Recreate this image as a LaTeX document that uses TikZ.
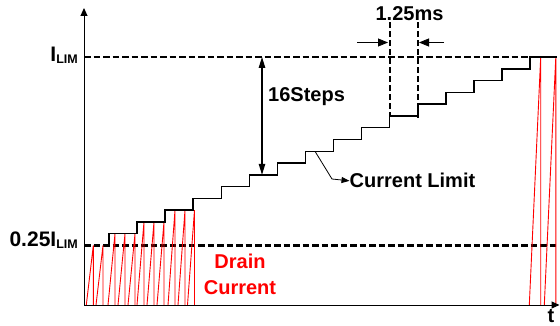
\documentclass[tikz,border=0pt]{standalone}
\usepackage{fontspec}
\setmainfont{Liberation Sans}
\usetikzlibrary{arrows.meta}
\newcommand\ILIMlbl{I\raisebox{-2pt}{\fontsize{12.5}{12.5}\selectfont LIM}}
\begin{document}
\begin{tikzpicture}[x=1pt,y=-1pt,
  lbl/.style={font=\fontsize{20}{22}\selectfont\bfseries, inner sep=0pt},
  axisline/.style={line width=1pt, -{Triangle[length=8pt,width=7pt]}},
  limdash/.style={line width=2.3pt, dash pattern=on 6.5pt off 3pt},
  tdash/.style={line width=1.8pt, dash pattern=on 6pt off 3pt},
  stair/.style={line width=1.5pt},
  drain/.style={red, line width=0.9pt},
  dimarrow/.style={line width=1.2pt, {Triangle[length=11pt,width=6.5pt]}-{Triangle[length=11pt,width=6.5pt]}},
  msarrow/.style={line width=0.8pt, -{Triangle[length=10pt,width=8pt]}},
  smallarrow/.style={line width=0.8pt, -{Triangle[length=8pt,width=6pt]}},
]
\useasboundingbox (0,0) rectangle (560,326);
% axes
\coordinate (O) at (84,305);
\coordinate (ytop) at (84,8);
\coordinate (xend) at (559.5,305);
% dashed levels
\coordinate (limL) at (84,57);
\coordinate (limR) at (557,57);
\coordinate (qL) at (84,245.5);
\coordinate (qR) at (556,245.5);
\draw[limdash] (limL) -- (limR);
\draw[limdash] (qL) -- (qR);
% drain current pulses (left)
\foreach \xt/\lv in {93.3/245.5,103/245.5,115/233.72,125/233.72,135/233.72,144/221.94,154/221.94,164/221.94,175/210.16,185/210.16,194.5/210.16}{
  \draw[drain] (\xt-7,305) -- (\xt,\lv) -- (\xt,305);
}
% drain current pulses (right)
\draw[drain] (529.3,305) -- (540.7,57) -- (540.7,305);
\draw[drain] (544.3,305) -- (555.8,57) -- (555.8,305);
% staircase
\draw[stair] (109,245.5)
  \foreach \k [evaluate=\k as \xa using {109+28.07*\k},
               evaluate=\k as \ya using {245.5-11.78*(\k+1)},
               evaluate=\k as \xb using {min(109+28.07*(\k+1),557)}] in {0,...,15}
  { -- (\xa,\ya) -- (\xb,\ya) };
% axes on top
\draw[axisline] (O) -- (ytop);
\draw[axisline] (O) -- (xend);
% 1.25 ms markers
\coordinate (d1t) at (389.7,22.5);
\coordinate (d1b) at (389.7,115.9);
\coordinate (d2t) at (417.8,22.5);
\coordinate (d2b) at (417.8,120);
\draw[tdash] (d1t) -- (d1b);
\draw[tdash] (d2t) -- (d2b);
\coordinate (a1s) at (357,42.5);
\coordinate (a1e) at (388,42.5);
\coordinate (a2s) at (444,42.5);
\coordinate (a2e) at (419,42.5);
\draw[msarrow] (a1s) -- (a1e);
\draw[msarrow] (a2s) -- (a2e);
\node[lbl, anchor=base] (ms) at (409.5,20.7) {1.25ms};
% 16 steps
\coordinate (s16t) at (262,57);
\coordinate (s16b) at (262,174.8);
\draw[dimarrow] (s16t) -- (s16b);
\node[lbl, anchor=base west] (steps) at (268,102) {16Steps};
% current limit callout
\coordinate (cl0) at (315,151.3);
\coordinate (cl1) at (332,179);
\node[lbl, anchor=base west] (cl) at (349.5,188) {Current Limit};
\draw[smallarrow] (cl0) -- (cl1) -- (cl.west);
% labels
\node[lbl, anchor=base east, font=\fontsize{21}{22}\selectfont\bfseries] (ilim) at (78,62) {\ILIMlbl};
\node[lbl, anchor=base east, font=\fontsize{21}{22}\selectfont\bfseries] (qlim) at (78,246.5) {0.25\ILIMlbl};
\node[lbl, anchor=base, text=red] (dr1) at (240,269) {Drain};
\node[lbl, anchor=base, text=red] (dr2) at (240,294) {Current};
\node[lbl, anchor=base] (t) at (551,322) {t};
\end{tikzpicture}
\end{document}
